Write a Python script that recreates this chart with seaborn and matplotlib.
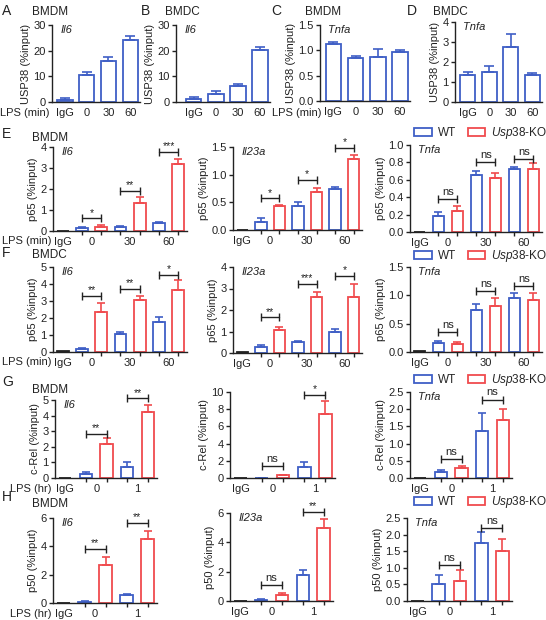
import matplotlib
matplotlib.use("Agg")
import matplotlib.pyplot as plt
import seaborn as sns
import pandas as pd
from matplotlib.patches import Patch
from matplotlib.ticker import FormatStrFormatter

sns.set_style("ticks")
plt.rcParams['font.family'] = ['Liberation Sans', 'DejaVu Sans']
plt.rcParams['mathtext.fontset'] = 'custom'
plt.rcParams['mathtext.it'] = 'Liberation Sans:italic'
plt.rcParams['mathtext.rm'] = 'Liberation Sans'

BLUE = '#3f5fc6'
RED = '#f04b4e'
INK = '#222222'

# ---- data: panels A-D (USP38 ChIP) ----
lps_min = ['IgG', '0', '30', '60']
a_il6 = [0.9, 10.4, 16.0, 24.2]
a_il6_err = [0.6, 1.3, 1.5, 1.4]
b_il6 = [1.0, 3.0, 6.1, 20.1]
b_il6_err = [0.9, 1.1, 1.0, 1.3]
c_tnfa = [1.13, 0.85, 0.87, 0.96]
c_tnfa_err = [0.04, 0.04, 0.16, 0.05]
d_tnfa = [1.34, 1.50, 2.75, 1.33]
d_tnfa_err = [0.17, 0.32, 0.65, 0.10]

# ---- data: panels E-F (p65, LPS min) ----
lps_hr = ['IgG', '0', '1']
e_il6_igg, e_il6_wt, e_il6_ko = 0.0, [0.13, 0.20, 0.37], [0.18, 1.32, 3.19]
e_il6_wt_err, e_il6_ko_err = [0.04, 0.04, 0.04], [0.10, 0.28, 0.24]
e_il6_sig = ['*', '**', '***']
e_il6_sig_y = [0.6, 1.9, 3.75]

e_il23a_igg, e_il23a_wt, e_il23a_ko = 0.0, [0.15, 0.44, 0.74], [0.43, 0.69, 1.29]
e_il23a_wt_err, e_il23a_ko_err = [0.07, 0.07, 0.03], [0.03, 0.07, 0.07]
e_il23a_sig = ['*', '*', '*']
e_il23a_sig_y = [0.57, 0.90, 1.49]

e_tnfa_igg, e_tnfa_wt, e_tnfa_ko = 0.005, [0.18, 0.66, 0.72], [0.24, 0.62, 0.72]
e_tnfa_wt_err, e_tnfa_ko_err = [0.05, 0.04, 0.03], [0.06, 0.06, 0.07]
e_tnfa_sig = ['ns', 'ns', 'ns']
e_tnfa_sig_y = [0.38, 0.80, 0.84]

f_il6_igg, f_il6_wt, f_il6_ko = 0.06, [0.20, 1.06, 1.75], [2.35, 3.08, 3.63]
f_il6_wt_err, f_il6_ko_err = [0.05, 0.09, 0.33], [0.55, 0.22, 0.60]
f_il6_sig = ['**', '**', '*']
f_il6_sig_y = [3.3, 3.7, 4.55]

f_il23a_igg, f_il23a_wt, f_il23a_ko = 0.05, [0.26, 0.50, 0.97], [1.08, 2.62, 2.62]
f_il23a_wt_err, f_il23a_ko_err = [0.09, 0.04, 0.15], [0.12, 0.23, 0.58]
f_il23a_sig = ['**', '***', '*']
f_il23a_sig_y = [1.66, 3.2, 3.57]

f_tnfa_igg, f_tnfa_wt, f_tnfa_ko = 0.01, [0.16, 0.75, 0.95], [0.15, 0.82, 0.92]
f_tnfa_wt_err, f_tnfa_ko_err = [0.04, 0.09, 0.10], [0.02, 0.14, 0.13]
f_tnfa_sig = ['ns', 'ns', 'ns']
f_tnfa_sig_y = [0.35, 1.08, 1.17]

# ---- data: panels G-H (c-Rel / p50, LPS hr) ----
g_il6_igg, g_il6_wt, g_il6_ko = 0.0, [0.25, 0.69], [2.20, 4.25]
g_il6_wt_err, g_il6_ko_err = [0.12, 0.33], [0.38, 0.40]
g_il6_sig, g_il6_sig_y = ['**', '**'], [2.85, 5.1]

g_il23a_igg, g_il23a_wt, g_il23a_ko = 0.0, [0.03, 1.33], [0.30, 7.45]
g_il23a_wt_err, g_il23a_ko_err = [0.02, 0.55], [0.10, 1.5]
g_il23a_sig, g_il23a_sig_y = ['ns', '*'], [1.4, 9.7]

g_tnfa_igg, g_tnfa_wt, g_tnfa_ko = 0.01, [0.18, 1.38], [0.30, 1.68]
g_tnfa_wt_err, g_tnfa_ko_err = [0.06, 0.52], [0.06, 0.32]
g_tnfa_sig, g_tnfa_sig_y = ['ns', 'ns'], [0.55, 2.28]

h_il6_igg, h_il6_wt, h_il6_ko = 0.0, [0.07, 0.57], [2.66, 4.54]
h_il6_wt_err, h_il6_ko_err = [0.04, 0.06], [0.57, 0.52]
h_il6_sig, h_il6_sig_y = ['**', '**'], [3.84, 5.67]

h_il23a_igg, h_il23a_wt, h_il23a_ko = 0.0, [0.07, 1.76], [0.39, 4.97]
h_il23a_wt_err, h_il23a_ko_err = [0.04, 0.34], [0.17, 0.62]
h_il23a_sig, h_il23a_sig_y = ['ns', '**'], [1.08, 6.06]

h_tnfa_igg, h_tnfa_wt, h_tnfa_ko = 0.01, [0.51, 1.75], [0.61, 1.50]
h_tnfa_wt_err, h_tnfa_ko_err = [0.27, 0.34], [0.31, 0.36]
h_tnfa_sig, h_tnfa_sig_y = ['ns', 'ns'], [1.07, 2.2]

W, H = 546, 620
fig = plt.figure(figsize=(W / 100, H / 100), dpi=100)


def add_ax(l, r, t, b):
    return fig.add_axes([l / W, 1 - b / H, (r - l) / W, (b - t) / H])


def style(ax, ylim, yticks, fmt=None):
    ax.set_ylim(0, ylim)
    ax.set_yticks(yticks)
    if fmt:
        ax.yaxis.set_major_formatter(FormatStrFormatter(fmt))
    sns.despine(ax=ax)
    for s in ['left', 'bottom']:
        ax.spines[s].set_linewidth(1.0)
        ax.spines[s].set_color(INK)
    ax.tick_params(axis='y', length=3, width=1, pad=1.5, labelsize=8, colors=INK)
    ax.tick_params(axis='x', which='major', length=0, pad=4, labelsize=8, colors=INK)
    ax.tick_params(axis='x', which='minor', length=3, width=1, color=INK)
    ax.set_xlabel('')


def gene_label(ax, gene):
    ax.annotate(gene, xy=(0, 1), xycoords='axes fraction', xytext=(6, 0),
                textcoords='offset points', ha='left', va='top',
                style='italic', fontsize=8, color=INK)


def errbars(ax, xs, vals, errs, colors, cap):
    for x, v, e, c in zip(xs, vals, errs, colors):
        if e > 0:
            ax.errorbar(x, v, yerr=[[0], [e]], fmt='none', ecolor=c,
                        elinewidth=1.2, capsize=cap, capthick=1.2, clip_on=False)


def usp38_panel(rect, vals, errs, ylim, yticks, gene, fmt=None, xlim=(-0.6, 3.45)):
    ax = add_ax(*rect)
    df = pd.DataFrame({'cond': lps_min, 'value': vals})
    sns.barplot(data=df, x='cond', y='value', order=lps_min, color=BLUE,
                fill=False, width=0.7, linewidth=1.3, errorbar=None, ax=ax)
    errbars(ax, range(4), vals, errs, [BLUE] * 4, 3.5)
    style(ax, ylim, yticks, fmt)
    ax.set_xticks(range(4))
    ax.set_xticklabels(lps_min)
    ax.set_xticks(range(4), minor=True)
    ax.set_xlim(*xlim)
    ax.set_ylabel('USP38 (%input)', fontsize=8, color=INK, labelpad=2)
    gene_label(ax, gene)
    return ax


def chip_panel(rect, igg, wt, wt_err, ko, ko_err, sig, sig_y, ylim, yticks,
               ylabel, gene, groups, fmt=None, width=0.62):
    ax = add_ax(*rect)
    n = len(wt)
    slots = list(range(2 * n + 1))
    vals = [igg] + [v for pair in zip(wt, ko) for v in pair]
    errs = [0] + [e for pair in zip(wt_err, ko_err) for e in pair]
    grp = ['IgG'] + ['WT', 'KO'] * n
    df = pd.DataFrame({'slot': slots, 'value': vals, 'grp': grp})
    pal = {'IgG': INK, 'WT': BLUE, 'KO': RED}
    sns.barplot(data=df, x='slot', y='value', hue='grp', palette=pal, dodge=False,
                fill=False, width=width, linewidth=1.3, errorbar=None,
                legend=False, ax=ax)
    errbars(ax, slots, vals, errs, [pal[g] for g in grp], 3)
    style(ax, ylim, yticks, fmt)
    centers = [0] + [1.5 + 2 * i for i in range(n)]
    ax.set_xticks(centers)
    ax.set_xticklabels(groups)
    ax.set_xticks(slots, minor=True)
    ax.set_xlim(-0.5, 2 * n + 0.45)
    ax.set_ylabel(ylabel, fontsize=8, color=INK, labelpad=2)
    if gene:
        gene_label(ax, gene)
    # significance brackets between WT and KO bars
    for i, (m, y) in enumerate(zip(sig, sig_y)):
        x1, x2 = 1 + 2 * i, 2 + 2 * i
        ax.plot([x1, x2], [y, y], color=INK, lw=1, marker='|', ms=6, mew=1,
                clip_on=False)
        ax.annotate(m, xy=((x1 + x2) / 2, y), xytext=(0, 1.5 if m == 'ns' else 0.5),
                    textcoords='offset points', ha='center', va='bottom',
                    fontsize=8 if m == 'ns' else 7.5, color=INK,
                    annotation_clip=False)
    return ax


def ftext(x, y, s, **kw):
    kw.setdefault('color', INK)
    fig.text(x / W, 1 - y / H, s, **kw)


def legend_at(x, y):
    handles = [Patch(facecolor='none', edgecolor=BLUE, linewidth=1.3),
               Patch(facecolor='none', edgecolor=RED, linewidth=1.3)]
    fig.legend(handles, ['WT', r'$\it{Usp38}$-KO'], loc='center left',
               bbox_to_anchor=(x / W, 1 - y / H), ncol=2, frameon=False,
               fontsize=8.5, handlelength=1.5, handleheight=0.75,
               handletextpad=0.5, columnspacing=1.0, borderpad=0, borderaxespad=0)


# ---- row A-D ----
usp38_panel((52, 140, 25, 102), a_il6, a_il6_err, 30, [0, 10, 20, 30], 'Il6')
usp38_panel((176, 270, 25, 102), b_il6, b_il6_err, 30, [0, 10, 20, 30], 'Il6',
            xlim=(-0.8, 3.45))
usp38_panel((320, 410, 25, 101), c_tnfa, c_tnfa_err, 1.5, [0, 0.5, 1.0, 1.5], 'Tnfa',
            fmt='%.1f')
usp38_panel((455, 542, 22, 102), d_tnfa, d_tnfa_err, 4, [0, 1, 2, 3, 4], 'Tnfa')

for x, s in [(2, 'A'), (141, 'B'), (271, 'C'), (407, 'D')]:
    ftext(x, 11, s, fontsize=10, va='center')
for x, s in [(32, 'BMDM'), (165, 'BMDC'), (305, 'BMDM'), (433, 'BMDC')]:
    ftext(x, 12, s, fontsize=8.5, va='center')
ftext(50, 113, 'LPS (min)', fontsize=8, ha='right', va='center')
ftext(322, 113, 'LPS (min)', fontsize=8, ha='right', va='center')

# ---- row E (p65, BMDM) ----
chip_panel((53, 187, 147, 231), e_il6_igg, e_il6_wt, e_il6_wt_err, e_il6_ko, e_il6_ko_err,
           e_il6_sig, e_il6_sig_y, 4, [0, 1, 2, 3, 4], 'p65 (%input)', 'Il6', lps_min)
chip_panel((233, 362, 147, 230), e_il23a_igg, e_il23a_wt, e_il23a_wt_err, e_il23a_ko,
           e_il23a_ko_err, e_il23a_sig, e_il23a_sig_y, 1.5, [0, 0.5, 1.0, 1.5],
           'p65 (%input)', 'Il23a', lps_min, fmt='%.1f')
chip_panel((410, 542, 145, 232), e_tnfa_igg, e_tnfa_wt, e_tnfa_wt_err, e_tnfa_ko,
           e_tnfa_ko_err, e_tnfa_sig, e_tnfa_sig_y, 1.0, [0, 0.2, 0.4, 0.6, 0.8, 1.0],
           'p65 (%input)', 'Tnfa', lps_min, fmt='%.1f')
ftext(2, 134, 'E', fontsize=10, va='center')
ftext(32, 138, 'BMDM', fontsize=8.5, va='center')
ftext(52, 241, 'LPS (min)', fontsize=8, ha='right', va='center')
legend_at(414, 133)

# ---- row F (p65, BMDC) ----
chip_panel((53, 187, 267, 352), f_il6_igg, f_il6_wt, f_il6_wt_err, f_il6_ko, f_il6_ko_err,
           f_il6_sig, f_il6_sig_y, 5, [0, 1, 2, 3, 4, 5], 'p65 (%input)', 'Il6', lps_min)
chip_panel((233, 362, 267, 353), f_il23a_igg, f_il23a_wt, f_il23a_wt_err, f_il23a_ko,
           f_il23a_ko_err, f_il23a_sig, f_il23a_sig_y, 4, [0, 1, 2, 3, 4],
           'p65 (%input)', 'Il23a', lps_min)
chip_panel((410, 542, 267, 352), f_tnfa_igg, f_tnfa_wt, f_tnfa_wt_err, f_tnfa_ko,
           f_tnfa_ko_err, f_tnfa_sig, f_tnfa_sig_y, 1.5, [0, 0.5, 1.0, 1.5],
           'p65 (%input)', 'Tnfa', lps_min, fmt='%.1f')
ftext(2, 253, 'F', fontsize=10, va='center')
ftext(32, 255, 'BMDC', fontsize=8.5, va='center')
ftext(52, 362, 'LPS (min)', fontsize=8, ha='right', va='center')
legend_at(414, 256)

# ---- row G (c-Rel, BMDM) ----
chip_panel((55, 157, 400, 478), g_il6_igg, g_il6_wt, g_il6_wt_err, g_il6_ko, g_il6_ko_err,
           g_il6_sig, g_il6_sig_y, 5, [0, 1, 2, 3, 4, 5], 'c-Rel (%input)', 'Il6', lps_hr,
           width=0.6)
chip_panel((230, 335, 392, 478), g_il23a_igg, g_il23a_wt, g_il23a_wt_err, g_il23a_ko,
           g_il23a_ko_err, g_il23a_sig, g_il23a_sig_y, 10, [0, 2, 4, 6, 8, 10],
           'c-Rel (%input)', None, lps_hr, width=0.6)
chip_panel((410, 512, 392, 478), g_tnfa_igg, g_tnfa_wt, g_tnfa_wt_err, g_tnfa_ko,
           g_tnfa_ko_err, g_tnfa_sig, g_tnfa_sig_y, 2.5, [0, 0.5, 1.0, 1.5, 2.0, 2.5],
           'c-Rel (%input)', 'Tnfa', lps_hr, fmt='%.1f', width=0.6)
ftext(2, 382, 'G', fontsize=10, va='center')
ftext(32, 390, 'BMDM', fontsize=8.5, va='center')
ftext(52, 489, 'LPS (hr)', fontsize=8, ha='right', va='center')
legend_at(414, 380)

# ---- row H (p50, BMDM) ----
chip_panel((53, 157, 518, 603), h_il6_igg, h_il6_wt, h_il6_wt_err, h_il6_ko, h_il6_ko_err,
           h_il6_sig, h_il6_sig_y, 6, [0, 2, 4, 6], 'p50 (%input)', 'Il6', lps_hr,
           width=0.6)
chip_panel((230, 333, 513, 601), h_il23a_igg, h_il23a_wt, h_il23a_wt_err, h_il23a_ko,
           h_il23a_ko_err, h_il23a_sig, h_il23a_sig_y, 6, [0, 2, 4, 6],
           'p50 (%input)', 'Il23a', lps_hr, width=0.6)
chip_panel((407, 512, 518, 601), h_tnfa_igg, h_tnfa_wt, h_tnfa_wt_err, h_tnfa_ko,
           h_tnfa_ko_err, h_tnfa_sig, h_tnfa_sig_y, 2.5, [0, 0.5, 1.0, 1.5, 2.0, 2.5],
           'p50 (%input)', 'Tnfa', lps_hr, fmt='%.1f', width=0.6)
ftext(2, 497, 'H', fontsize=10, va='center')
ftext(32, 504, 'BMDM', fontsize=8.5, va='center')
ftext(52, 614, 'LPS (hr)', fontsize=8, ha='right', va='center')
legend_at(414, 502)

fig.savefig('out.png', dpi=100)
